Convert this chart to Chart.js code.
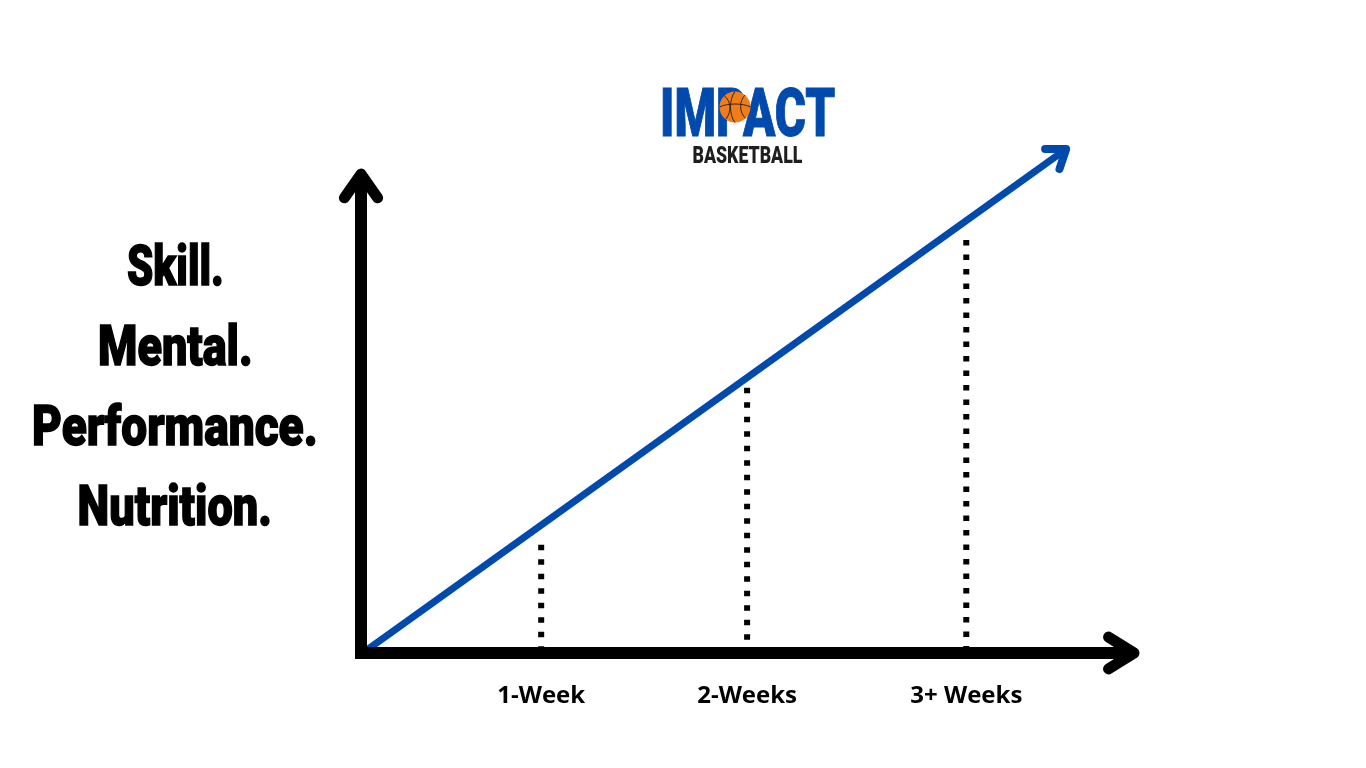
<!DOCTYPE html>
<html>
<head>
<meta charset="utf-8">
<script src="https://cdn.jsdelivr.net/npm/chart.js@4.4.1/dist/chart.umd.min.js"></script>
<style>
html, body { margin: 0; padding: 0; background: #fff; width: 1366px; height: 768px; overflow: hidden; }
#wrap { position: absolute; left: 0; top: 0; width: 1366px; height: 768px; }
.side { position: absolute; left: 0; width: 350px; text-align: center; font-family: Roboto, "Liberation Sans", sans-serif; font-weight: 900; font-size: 56px; line-height: 56px; color: #000; white-space: nowrap; -webkit-text-stroke: 1.5px #000; }
.side span, .logo span { display: inline-block; transform-origin: center center; }
.logo { position: absolute; left: 600px; width: 295px; text-align: center; font-family: Roboto, "Liberation Sans", sans-serif; font-weight: 900; white-space: nowrap; }
#impact { top: 81px; font-size: 66px; line-height: 66px; color: #004aad; -webkit-text-stroke: 1px #004aad; }
#bball { top: 143px; font-size: 24px; line-height: 24px; color: #1e1e1e; }
#ball { position: absolute; left: 719px; top: 91px; width: 32px; height: 32px; }
</style>
</head>
<body>
<div id="wrap">
  <canvas id="growthChart" width="1366" height="768"></canvas>
</div>
<div class="side" style="top:238px"><span id="l0">Skill.</span></div>
<div class="side" style="top:318px"><span id="l1">Mental.</span></div>
<div class="side" style="top:398px"><span id="l2">Performance.</span></div>
<div class="side" style="top:478px"><span id="l3">Nutrition.</span></div>
<div class="logo" id="impact"><span id="impactTxt">IMPACT</span></div>
<div class="logo" id="bball"><span id="bballTxt">BASKETBALL</span></div>
<svg id="ball" viewBox="0 0 32 32">
  <circle cx="16" cy="16" r="15.5" fill="#f07d1c"/>
  <path d="M16 0.5 C 10 8, 10 24, 16 31.5" fill="none" stroke="#3b2414" stroke-width="1"/>
  <path d="M0.5 16 C 8 12, 24 12, 31.5 16" fill="none" stroke="#3b2414" stroke-width="1"/>
  <path d="M5 4.5 C 12 10, 13 20, 7 28" fill="none" stroke="#3b2414" stroke-width="1"/>
  <path d="M26 4 C 20 10, 20 22, 27 27.5" fill="none" stroke="#3b2414" stroke-width="1"/>
</svg>

<script>
// valori (scala 0-100 su entrambi gli assi)
const weekLabels = ['1-Week', '2-Weeks', '3+ Weeks'];
const weekPositions = [23.1, 49.5, 77.6];
const guideHeights = [20.8, 51.0, 79.4];
const growthX = [0.5, 90.4];
const growthY = [0.3, 96.9];
const axisX = [0, 0, 99.1];
const axisY = [92.1, 0, 0];

const sideLabels = ['Skill.', 'Mental.', 'Performance.', 'Nutrition.'];

function squeeze(id, w) {
    const el = document.getElementById(id);
    el.style.transform = 'scaleX(' + (w / el.offsetWidth) + ')';
}

function buildGuides() {
    const pts = [];
    weekPositions.forEach((x, i) => {
        pts.push({ x: x, y: guideHeights[i] });
        pts.push({ x: x, y: 0 });
        pts.push({ x: x, y: null });
    });
    return pts;
}

function chevron(ctx, fx, fy, tx, ty, len, deg, width, color) {
    const back = Math.atan2(fy - ty, fx - tx);
    const a = deg * Math.PI / 180;
    ctx.save();
    ctx.strokeStyle = color;
    ctx.lineWidth = width;
    ctx.lineCap = 'round';
    ctx.lineJoin = 'round';
    ctx.beginPath();
    ctx.moveTo(tx + len * Math.cos(back + a), ty + len * Math.sin(back + a));
    ctx.lineTo(tx, ty);
    ctx.lineTo(tx + len * Math.cos(back - a), ty + len * Math.sin(back - a));
    ctx.stroke();
    ctx.restore();
}

const arrowPlugin = {
    id: 'arrowHeads',
    afterDatasetsDraw(chart) {
        const ctx = chart.ctx;
        const sx = chart.scales.x, sy = chart.scales.y;
        const px = v => sx.getPixelForValue(v);
        const py = v => sy.getPixelForValue(v);
        // asse y
        chevron(ctx, px(axisX[1]), py(axisY[1]), px(axisX[0]), py(axisY[0]), 29, 35, 11, '#000');
        // asse x
        chevron(ctx, px(axisX[1]), py(axisY[1]), px(axisX[2]), py(axisY[2]), 30, 32, 11, '#000');
        // linea blu
        chevron(ctx, px(growthX[0]), py(growthY[0]), px(growthX[1]), py(growthY[1]), 21, 36, 8, '#004aad');
    }
};

function initChart() {
    const ctx = document.getElementById('growthChart').getContext('2d');
    new Chart(ctx, {
        type: 'line',
        data: {
            datasets: [
                {
                    data: axisX.map((x, i) => ({ x: x, y: axisY[i] })),
                    borderColor: '#000', borderWidth: 12, borderJoinStyle: 'miter', borderCapStyle: 'butt',
                    pointRadius: 0, clip: false, tension: 0
                },
                {
                    data: growthX.map((x, i) => ({ x: x, y: growthY[i] })),
                    borderColor: '#004aad', borderWidth: 7, borderCapStyle: 'butt',
                    pointRadius: 0, clip: false, tension: 0
                },
                {
                    data: buildGuides(),
                    borderColor: '#000', borderWidth: 6, borderDash: [5.5, 9], borderCapStyle: 'butt',
                    pointRadius: 0, spanGaps: false, clip: false, tension: 0
                }
            ]
        },
        options: {
            responsive: false,
            animation: false,
            events: [],
            layout: { padding: { left: 361, right: 225, top: 133, bottom: 0 } },
            plugins: { legend: { display: false }, tooltip: { enabled: false } },
            scales: {
                x: {
                    type: 'linear', min: 0, max: 100,
                    grid: { display: false, drawTicks: false },
                    border: { display: false },
                    afterBuildTicks: s => { s.ticks = weekPositions.map(v => ({ value: v })); },
                    afterFit: s => { s.height = 115; },
                    ticks: {
                        autoSkip: false, maxRotation: 0, padding: 29, color: '#000',
                        font: { family: '"Open Sans", Lato, sans-serif', weight: '700', size: 24 },
                        callback: (v, i) => weekLabels[i]
                    }
                },
                y: { type: 'linear', min: 0, max: 100, display: false }
            }
        },
        plugins: [arrowPlugin]
    });
}

function initAll() {
    squeeze('l0', 97);
    squeeze('l1', 155);
    squeeze('l2', 286);
    squeeze('l3', 194);
    squeeze('impactTxt', 175);
    squeeze('bballTxt', 110);
    initChart();
}

window.onload = initAll;
</script>
</body>
</html>
